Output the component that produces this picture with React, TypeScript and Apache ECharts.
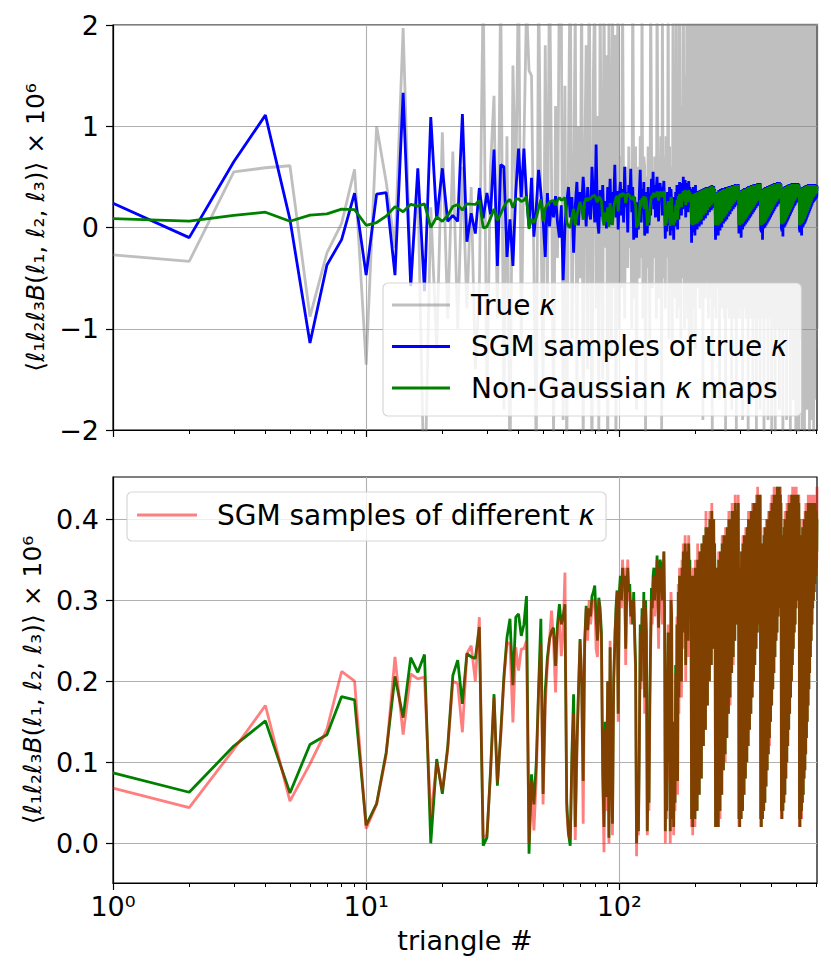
import React, { useEffect, useRef } from "react";
import * as echarts from "echarts";

// ---------- data (triangle index = position + 1) ----------
const N_TRIANGLES = 604;

const xMajorTicks = [1, 10, 100];
const xMinorTicks = [2, 3, 4, 5, 6, 7, 8, 9, 20, 30, 40, 50, 60, 70, 80, 90, 200, 300, 400, 500, 600];
const xTickLabels: Record<number, string> = { 1: "10\u2070", 10: "10\u00b9", 100: "10\u00b2" };
const yTicksTop = [-2, -1, 0, 1, 2];
const yTicksBottom = [0, 0.1, 0.2, 0.3, 0.4];

// Non-Gaussian kappa maps (green)
const greenA = [
  0.087, 0.063, 0.120, 0.151, 0.062, 0.122, 0.134, 0.181, 0.177, 0.022,
  0.049, 0.112, 0.206, 0.155, 0.229, 0.211, 0.233, 0.000, 0.104, 0.061,
  0.119, 0.207, 0.226, 0.172, 0.234, 0.230, 0.228, 0.267, -0.003, 0.007,
  0.090, 0.184, 0.071, 0.135, 0.205, 0.254, 0.277, 0.195, 0.279, 0.283,
  0.256, 0.270, 0.305, -0.013, 0.085, 0.048, 0.100, 0.190, 0.277, 0.061,
  0.188, 0.229, 0.252, 0.262, 0.266, 0.219, 0.270, 0.295, 0.270, 0.280,
  0.295, 0.050, 0.012, -0.003, 0.110, 0.184, 0.020, 0.120, 0.188, 0.252,
  0.200, 0.077, 0.250, 0.293, 0.263, 0.290, 0.280, 0.305, 0.310, 0.318,
  0.279, 0.250, 0.303, 0.290, 0.260, 0.090, 0.020, 0.150, 0.057, 0.200,
  0.007, 0.242, 0.100, 0.024, 0.200, 0.246, 0.290, 0.312, 0.160, 0.310,
];
const greenB = [
  0.33, 0.30, 0.34, 0.32, 0.33, 0.24, 0.31, 0.34, 0.31, 0.32,
  0.28, 0.30, 0.27, 0.31, 0.26, 0.22, 0.00, 0.06, 0.015, 0.12,
  0.27, 0.20, 0.29, 0.24, 0.31, 0.18, 0.30, 0.26, 0.015, 0.10,
  0.05, 0.18, 0.25, 0.315, 0.29, 0.33, 0.34, 0.30, 0.33, 0.32,
  0.355, 0.31, 0.266, 0.33, 0.35, 0.344, 0.32, 0.30, 0.33, 0.36,
  0.29, 0.015, 0.12, 0.04, 0.20, 0.26, 0.10, 0.22, 0.015, 0.30,
  0.28, 0.03, 0.09, 0.02, 0.15, 0.05, 0.22, 0.10, 0.27, 0.077,
  0.31, 0.18, 0.33, 0.25, 0.30, 0.20, 0.34, 0.26, 0.36, 0.28,
  0.33, 0.37, 0.22, 0.35, 0.30, 0.36, 0.25, 0.37, 0.32, 0.35,
  0.28, 0.33, 0.03, 0.30, 0.02, 0.33, 0.05, 0.22, 0.03, 0.34,
];
const greenC = [
  0.07, 0.31, 0.04, 0.35, 0.09, 0.27, 0.06, 0.36, 0.11, 0.33,
  0.08, 0.37, 0.13, 0.30, 0.12, 0.38, 0.17, 0.35, 0.14, 0.39,
  0.19, 0.36, 0.17, 0.39, 0.23, 0.33, 0.20, 0.40, 0.25, 0.37,
  0.22, 0.41, 0.27, 0.38, 0.24, 0.40, 0.29, 0.37, 0.31, 0.02,
  0.30, 0.03, 0.34, 0.04, 0.28, 0.02, 0.35, 0.06, 0.31, 0.04,
  0.36, 0.08, 0.33, 0.06, 0.37, 0.10, 0.30, 0.09, 0.38, 0.12,
  0.34, 0.11, 0.38, 0.15, 0.36, 0.13, 0.39, 0.17, 0.33, 0.16,
  0.40, 0.19, 0.37, 0.18, 0.40, 0.22, 0.36, 0.21, 0.41, 0.24,
  0.38, 0.23, 0.41, 0.26, 0.39, 0.25, 0.42, 0.28, 0.38, 0.27,
  0.41, 0.30, 0.39, 0.29, 0.42, 0.32, 0.03, 0.31, 0.02, 0.34,
];
const greenD = [
  0.04, 0.29, 0.03, 0.36, 0.05, 0.32, 0.04, 0.37, 0.07, 0.33,
  0.06, 0.38, 0.09, 0.34, 0.08, 0.38, 0.11, 0.31, 0.10, 0.39,
  0.13, 0.36, 0.12, 0.40, 0.15, 0.37, 0.14, 0.40, 0.17, 0.35,
  0.16, 0.41, 0.19, 0.38, 0.18, 0.41, 0.21, 0.39, 0.20, 0.42,
  0.23, 0.37, 0.22, 0.42, 0.25, 0.40, 0.24, 0.42, 0.27, 0.39,
  0.26, 0.43, 0.28, 0.40, 0.27, 0.42, 0.30, 0.41, 0.29, 0.43,
  0.31, 0.03, 0.32, 0.02, 0.35, 0.04, 0.30, 0.03, 0.37, 0.05,
  0.33, 0.04, 0.38, 0.06, 0.34, 0.05, 0.39, 0.08, 0.35, 0.07,
  0.39, 0.10, 0.36, 0.09, 0.40, 0.12, 0.34, 0.11, 0.40, 0.14,
  0.37, 0.13, 0.41, 0.16, 0.38, 0.15, 0.41, 0.18, 0.36, 0.17,
];
const greenE = [
  0.42, 0.20, 0.39, 0.19, 0.42, 0.22, 0.40, 0.21, 0.43, 0.24,
  0.38, 0.23, 0.43, 0.26, 0.41, 0.25, 0.43, 0.27, 0.40, 0.26,
  0.44, 0.29, 0.41, 0.28, 0.43, 0.30, 0.42, 0.29, 0.44, 0.31,
  0.41, 0.30, 0.43, 0.32, 0.42, 0.33, 0.04, 0.33, 0.03, 0.36,
  0.05, 0.31, 0.04, 0.38, 0.06, 0.34, 0.05, 0.39, 0.07, 0.35,
  0.06, 0.40, 0.09, 0.36, 0.08, 0.40, 0.11, 0.37, 0.10, 0.41,
  0.13, 0.38, 0.12, 0.41, 0.15, 0.36, 0.14, 0.42, 0.17, 0.39,
  0.16, 0.42, 0.19, 0.40, 0.18, 0.42, 0.21, 0.38, 0.20, 0.43,
  0.23, 0.40, 0.22, 0.43, 0.25, 0.41, 0.24, 0.43, 0.27, 0.39,
  0.26, 0.43, 0.28, 0.41, 0.27, 0.42, 0.30, 0.40, 0.29, 0.43,
];
const greenF = [
  0.31, 0.41, 0.30, 0.42, 0.32, 0.40, 0.31, 0.43, 0.33, 0.41,
  0.32, 0.42, 0.34, 0.40, 0.03, 0.32, 0.02, 0.35, 0.04, 0.30,
  0.03, 0.37, 0.05, 0.33, 0.04, 0.38, 0.06, 0.34, 0.05, 0.39,
  0.07, 0.35, 0.06, 0.39, 0.09, 0.36, 0.08, 0.40, 0.10, 0.37,
  0.09, 0.40, 0.12, 0.38, 0.11, 0.41, 0.14, 0.36, 0.13, 0.41,
  0.16, 0.39, 0.15, 0.41, 0.18, 0.40, 0.17, 0.42, 0.20, 0.38,
  0.19, 0.42, 0.22, 0.40, 0.21, 0.41, 0.24, 0.39, 0.23, 0.42,
  0.26, 0.40, 0.25, 0.41, 0.28, 0.39, 0.27, 0.42, 0.30, 0.40,
  0.29, 0.41, 0.31, 0.39, 0.30, 0.42, 0.32, 0.40, 0.31, 0.41,
  0.33, 0.40, 0.32, 0.42, 0.34, 0.39, 0.33, 0.41, 0.35, 0.40,
  0.34, 0.41, 0.36, 0.40,
];

// SGM samples of different kappa (red, semi-transparent)
const redA = [
  0.068, 0.044, 0.116, 0.170, 0.052, 0.098, 0.141, 0.212, 0.200, 0.018,
  0.048, 0.109, 0.230, 0.134, 0.209, 0.203, 0.205, 0.032, 0.100, 0.065,
  0.115, 0.200, 0.197, 0.137, 0.234, 0.244, 0.200, 0.279, 0.007, 0.010,
  0.085, 0.180, 0.075, 0.130, 0.200, 0.248, 0.246, 0.149, 0.242, 0.213,
  0.240, 0.240, 0.250, 0.000, 0.077, 0.016, 0.080, 0.190, 0.246, 0.048,
  0.170, 0.220, 0.250, 0.287, 0.250, 0.186, 0.260, 0.279, 0.231, 0.260,
  0.334, 0.040, 0.010, 0.005, 0.100, 0.160, 0.004, 0.110, 0.190, 0.250,
  0.210, 0.024, 0.240, 0.290, 0.250, 0.300, 0.270, 0.290, 0.300, 0.300,
  0.240, 0.230, 0.300, 0.280, 0.250, 0.080, -0.011, 0.140, 0.040, 0.200,
  0.000, 0.250, 0.090, 0.010, 0.190, 0.260, 0.280, 0.310, 0.150, 0.300,
];
const redB = [
  0.32, 0.29, 0.35, 0.31, 0.34, 0.22, 0.30, 0.35, 0.30, 0.31,
  0.27, 0.29, 0.28, 0.30, 0.25, 0.21, -0.016, 0.05, 0.01, 0.11,
  0.26, 0.19, 0.28, 0.22, 0.30, 0.16, 0.29, 0.24, 0.01, 0.09,
  0.04, 0.16, 0.24, 0.30, 0.27, 0.32, 0.33, 0.28, 0.31, 0.30,
  0.35, 0.29, 0.24, 0.32, 0.34, 0.33, 0.30, 0.27, 0.32, 0.36,
  0.27, 0.00, 0.10, 0.03, 0.19, 0.27, 0.08, 0.21, 0.00, 0.31,
  0.29, 0.02, 0.08, 0.01, 0.14, 0.04, 0.21, 0.09, 0.28, 0.06,
  0.32, 0.16, 0.34, 0.23, 0.29, 0.18, 0.35, 0.24, 0.37, 0.26,
  0.32, 0.38, 0.20, 0.34, 0.28, 0.37, 0.23, 0.38, 0.30, 0.34,
  0.26, 0.32, 0.02, 0.31, 0.01, 0.34, 0.04, 0.20, 0.02, 0.35,
];
const redC = [
  0.06, 0.31, 0.04, 0.37, 0.09, 0.25, 0.06, 0.36, 0.10, 0.33,
  0.08, 0.37, 0.12, 0.28, 0.12, 0.38, 0.15, 0.35, 0.14, 0.41,
  0.19, 0.35, 0.17, 0.39, 0.21, 0.33, 0.20, 0.41, 0.25, 0.37,
  0.22, 0.42, 0.27, 0.36, 0.24, 0.40, 0.27, 0.37, 0.30, 0.02,
  0.30, 0.02, 0.34, 0.04, 0.26, 0.02, 0.36, 0.06, 0.31, 0.03,
  0.36, 0.08, 0.31, 0.06, 0.38, 0.10, 0.28, 0.09, 0.38, 0.11,
  0.34, 0.10, 0.39, 0.15, 0.36, 0.13, 0.39, 0.16, 0.31, 0.16,
  0.41, 0.19, 0.37, 0.17, 0.40, 0.22, 0.34, 0.21, 0.42, 0.24,
  0.38, 0.22, 0.41, 0.26, 0.38, 0.25, 0.43, 0.28, 0.36, 0.27,
  0.41, 0.29, 0.39, 0.29, 0.43, 0.31, 0.02, 0.31, 0.02, 0.35,
];
const redD = [
  0.03, 0.28, 0.03, 0.36, 0.05, 0.31, 0.04, 0.38, 0.07, 0.33,
  0.06, 0.38, 0.08, 0.34, 0.08, 0.39, 0.11, 0.29, 0.10, 0.39,
  0.12, 0.36, 0.12, 0.41, 0.15, 0.36, 0.14, 0.40, 0.16, 0.33,
  0.16, 0.41, 0.18, 0.38, 0.18, 0.42, 0.21, 0.38, 0.20, 0.42,
  0.22, 0.36, 0.22, 0.42, 0.25, 0.39, 0.24, 0.43, 0.26, 0.39,
  0.26, 0.44, 0.28, 0.39, 0.27, 0.42, 0.29, 0.41, 0.29, 0.43,
  0.30, 0.02, 0.32, 0.02, 0.36, 0.04, 0.29, 0.03, 0.37, 0.04,
  0.33, 0.04, 0.39, 0.06, 0.33, 0.05, 0.39, 0.07, 0.35, 0.07,
  0.40, 0.10, 0.35, 0.09, 0.40, 0.11, 0.33, 0.11, 0.41, 0.14,
  0.37, 0.12, 0.41, 0.16, 0.37, 0.15, 0.42, 0.18, 0.35, 0.17,
];
const redE = [
  0.43, 0.20, 0.38, 0.19, 0.42, 0.21, 0.40, 0.21, 0.44, 0.24,
  0.37, 0.23, 0.43, 0.25, 0.41, 0.25, 0.44, 0.27, 0.39, 0.26,
  0.44, 0.28, 0.41, 0.28, 0.43, 0.30, 0.41, 0.29, 0.44, 0.30,
  0.40, 0.30, 0.44, 0.32, 0.42, 0.32, 0.03, 0.34, 0.03, 0.36,
  0.04, 0.30, 0.04, 0.38, 0.06, 0.33, 0.05, 0.40, 0.07, 0.35,
  0.06, 0.41, 0.08, 0.36, 0.08, 0.40, 0.10, 0.37, 0.10, 0.42,
  0.12, 0.38, 0.12, 0.41, 0.14, 0.35, 0.14, 0.43, 0.17, 0.38,
  0.16, 0.42, 0.18, 0.40, 0.18, 0.43, 0.21, 0.37, 0.20, 0.43,
  0.22, 0.40, 0.22, 0.44, 0.25, 0.40, 0.24, 0.43, 0.26, 0.38,
  0.26, 0.44, 0.28, 0.40, 0.27, 0.42, 0.29, 0.40, 0.29, 0.44,
];
const redF = [
  0.30, 0.41, 0.30, 0.43, 0.32, 0.39, 0.31, 0.43, 0.32, 0.41,
  0.32, 0.43, 0.33, 0.40, 0.02, 0.32, 0.02, 0.36, 0.04, 0.29,
  0.03, 0.38, 0.05, 0.33, 0.03, 0.38, 0.06, 0.33, 0.05, 0.40,
  0.06, 0.35, 0.06, 0.40, 0.09, 0.35, 0.08, 0.40, 0.09, 0.37,
  0.09, 0.41, 0.11, 0.38, 0.11, 0.42, 0.14, 0.35, 0.13, 0.41,
  0.15, 0.39, 0.15, 0.42, 0.18, 0.39, 0.17, 0.43, 0.19, 0.37,
  0.19, 0.43, 0.21, 0.39, 0.21, 0.41, 0.23, 0.39, 0.23, 0.43,
  0.25, 0.39, 0.25, 0.42, 0.28, 0.38, 0.27, 0.43, 0.29, 0.40,
  0.29, 0.42, 0.30, 0.38, 0.30, 0.43, 0.31, 0.40, 0.31, 0.42,
  0.32, 0.39, 0.32, 0.43, 0.34, 0.38, 0.33, 0.42, 0.34, 0.40,
  0.33, 0.42, 0.35, 0.44,
];

// SGM samples of true kappa (blue)
const blueA = [
  0.24, -0.10, 0.65, 1.11, 0.08, -1.14, -0.37, -0.12, 0.34, -0.47,
  0.33, 0.345, -0.47, 1.33, -0.58, 0.585, -0.63, 1.09, 0.075, 0.585,
  0.06, 0.12, 0.06, 1.12, -0.14, 0.14, -0.06, 0.39, 0.09, 0.34,
  0.13, 0.77, -0.38, 0.62, 0.60, -0.29, 0.08, -0.38, 0.35, 0.78,
  0.30, 0.78, 0.31, 0.01, 0.49, -0.09, 0.20, 0.57, 0.35, 0.08,
  -0.29, 0.34, 0.01, 0.25, 0.10, 0.31, 0.05, -0.10, 0.22, -0.52,
  0.01, 0.25, 0.40, 0.10, 0.30, -0.25, 0.21, 0.45, 0.02, 0.35,
  0.20, 0.50, 0.27, 0.01, 0.40, 0.15, 0.08, 0.60, 0.30, 0.05,
  0.82, 0.07, -0.06, 0.37, 0.11, 0.42, 0.05, 0.26, -0.01, 0.40,
  0.16, 0.48, 0.03, 0.35, 0.20, 0.62, 0.10, 0.36, -0.02, 0.30,
];
const blueB = [
  0.45, 0.12, 0.38, 0.05, 0.60, 0.20, 0.35, -0.05, 0.42, 0.28,
  0.58, 0.15, 0.40, -0.12, 0.30, 0.10, -0.10, 0.25, -0.02, 0.33,
  0.57, 0.05, 0.38, 0.18, 0.45, -0.08, 0.35, 0.22, -0.06, 0.40,
  0.02, 0.30, 0.12, 0.48, 0.25, 0.55, 0.18, 0.42, 0.10, 0.38,
  0.50, 0.22, 0.06, 0.36, 0.44, 0.28, 0.40, 0.12, 0.35, 0.46,
  0.20, -0.11, 0.30, -0.04, 0.35, 0.15, 0.02, 0.40, -0.08, 0.38,
  0.25, -0.03, 0.22, -0.12, 0.30, 0.01, 0.35, 0.05, 0.42, -0.02,
  0.40, 0.08, 0.45, 0.20, 0.36, 0.12, 0.44, 0.18, 0.50, 0.22,
  0.38, 0.47, 0.10, 0.42, 0.25, 0.44, 0.15, 0.46, 0.28, 0.40,
  0.20, 0.38, -0.15, 0.35, -0.05, 0.40, 0.02, 0.30, -0.08, 0.42,
];
const blueC = [
  0.03, 0.34, -0.02, 0.36, 0.05, 0.30, 0.01, 0.37, 0.08, 0.35,
  0.03, 0.38, 0.10, 0.33, 0.07, 0.39, 0.12, 0.36, 0.09, 0.40,
  0.15, 0.38, 0.12, 0.40, 0.18, 0.35, 0.15, 0.41, 0.20, 0.39,
  0.17, 0.42, 0.22, 0.39, 0.19, 0.41, 0.25, 0.38, 0.27, -0.12,
  0.33, -0.02, 0.35, -0.05, 0.30, -0.08, 0.37, 0.01, 0.33, -0.03,
  0.38, 0.03, 0.34, 0.00, 0.39, 0.05, 0.32, 0.04, 0.39, 0.07,
  0.36, 0.06, 0.40, 0.10, 0.37, 0.08, 0.40, 0.12, 0.35, 0.11,
  0.41, 0.14, 0.38, 0.13, 0.41, 0.17, 0.37, 0.16, 0.42, 0.19,
  0.39, 0.18, 0.42, 0.21, 0.40, 0.20, 0.43, 0.23, 0.39, 0.22,
  0.42, 0.25, 0.40, 0.24, 0.43, 0.27, -0.06, 0.33, -0.03, 0.35,
];
const blueD = [
  -0.01, 0.31, -0.10, 0.37, 0.00, 0.33, -0.02, 0.38, 0.02, 0.34,
  0.01, 0.39, 0.04, 0.35, 0.03, 0.39, 0.06, 0.33, 0.05, 0.40,
  0.08, 0.37, 0.07, 0.41, 0.10, 0.38, 0.09, 0.41, 0.12, 0.36,
  0.11, 0.42, 0.14, 0.39, 0.13, 0.42, 0.16, 0.40, 0.15, 0.43,
  0.18, 0.38, 0.17, 0.43, 0.20, 0.41, 0.19, 0.43, 0.22, 0.40,
  0.21, 0.44, 0.23, 0.41, 0.22, 0.43, 0.25, 0.42, 0.24, 0.44,
  0.26, -0.03, 0.33, -0.05, 0.36, -0.01, 0.31, -0.12, 0.38, 0.00,
  0.34, -0.01, 0.39, 0.01, 0.35, 0.00, 0.40, 0.03, 0.36, 0.02,
  0.40, 0.05, 0.37, 0.04, 0.41, 0.07, 0.35, 0.06, 0.41, 0.09,
  0.38, 0.08, 0.42, 0.11, 0.39, 0.10, 0.42, 0.13, 0.37, 0.12,
];
const blueE = [
  0.43, 0.15, 0.40, 0.14, 0.43, 0.17, 0.41, 0.16, 0.44, 0.19,
  0.39, 0.18, 0.44, 0.21, 0.42, 0.20, 0.44, 0.22, 0.41, 0.21,
  0.45, 0.24, 0.42, 0.23, 0.44, 0.25, 0.43, 0.24, 0.45, 0.26,
  0.42, 0.25, 0.44, 0.27, 0.43, 0.28, -0.02, 0.34, -0.04, 0.37,
  -0.01, 0.32, -0.09, 0.39, 0.01, 0.35, 0.00, 0.40, 0.02, 0.36,
  0.01, 0.41, 0.04, 0.37, 0.03, 0.41, 0.06, 0.38, 0.05, 0.42,
  0.08, 0.39, 0.07, 0.42, 0.10, 0.37, 0.09, 0.43, 0.12, 0.40,
  0.11, 0.43, 0.14, 0.41, 0.13, 0.43, 0.16, 0.39, 0.15, 0.44,
  0.18, 0.41, 0.17, 0.44, 0.20, 0.42, 0.19, 0.44, 0.22, 0.40,
  0.21, 0.44, 0.23, 0.42, 0.22, 0.43, 0.25, 0.41, 0.24, 0.44,
];
const blueF = [
  0.26, 0.42, 0.25, 0.43, 0.27, 0.41, 0.26, 0.44, 0.28, 0.42,
  0.27, 0.43, 0.29, 0.41, -0.03, 0.33, -0.05, 0.36, -0.01, 0.31,
  -0.02, 0.38, 0.00, 0.34, -0.08, 0.39, 0.01, 0.35, 0.00, 0.40,
  0.02, 0.36, 0.01, 0.40, 0.04, 0.37, 0.03, 0.41, 0.05, 0.38,
  0.04, 0.41, 0.07, 0.39, 0.06, 0.42, 0.09, 0.37, 0.08, 0.42,
  0.11, 0.40, 0.10, 0.42, 0.13, 0.41, 0.12, 0.43, 0.15, 0.39,
  0.14, 0.43, 0.17, 0.41, 0.16, 0.42, 0.19, 0.40, 0.18, 0.43,
  0.21, 0.41, 0.20, 0.42, 0.23, 0.40, 0.22, 0.43, 0.25, 0.41,
  0.24, 0.42, 0.26, 0.40, 0.25, 0.43, 0.27, 0.41, 0.26, 0.42,
  0.28, 0.41, 0.27, 0.43, 0.29, 0.40, 0.28, 0.42, 0.30, 0.41,
  0.29, 0.42, 0.31, 0.41,
];

// True kappa (gray)
const trueA = [
  -0.27, -0.335, 0.55, 0.59, 0.61, -0.88, -0.25, 0.04, 0.575, -1.355,
  1.00, 0.45, -0.20, 1.97, -0.55, 0.45, -2.80, 0.20, -1.20, 0.94,
  -0.90, 0.75, -1.00, 0.60, -0.80, 0.40, -1.40, -0.60, 2.40, -1.70,
  0.60, 1.30, -0.90, 2.40, -1.80, 0.90, -2.50, 1.60, 0.30, 2.60,
  -1.20, 0.80, 2.20, 1.55, 1.50, -0.40, -2.30, 2.50, 0.20, -1.60,
  1.80, -0.70, 2.70, 0.50, -2.10, 1.20, -0.30, 2.60, 2.30, -1.90,
  1.40, -2.40, 0.80, 2.80, -1.10, 0.30, 2.20, -1.70, 1.00, -0.50,
  2.50, -2.20, 0.60, 1.80, -1.40, 2.90, 0.10, -2.60, 1.50, 2.40,
  -0.80, 1.10, -2.10, 2.30, 0.40, -1.50, 2.60, -0.20, 1.70, -2.70,
  2.10, 0.60, -1.30, 2.80, -0.60, 1.90, -2.30, 1.30, 2.50, -1.00,
];
const trueB = [
  0.70, -0.60, 2.40, 0.30, -0.90, 0.60, 0.40, -0.40, 0.80, -0.20,
  0.50, -1.00, 2.60, 0.40, -0.70, 0.80, -1.80, 0.60, 0.40, -0.50,
  0.90, -0.30, 2.30, -0.90, 0.70, 0.60, -2.10, 0.50, -0.40, 0.80,
  0.20, -1.10, 2.40, 0.90, -0.60, 0.50, -0.30, 0.70, 0.50, -0.90,
  2.50, 0.80, -0.70, 0.60, -0.10, 0.90, -2.00, 2.20, 0.30, -0.50,
  0.70, -0.80, 0.90, 0.50, -0.30, 2.60, -1.10, 0.80, -0.60, 0.60,
  0.40, -1.20, 2.30, 0.70, -0.70, 1.30, -0.20, 2.50, -0.90, 0.60,
  0.60, -0.80, 2.80, 0.90, -1.10, 1.20, 0.20, -0.50, 2.60, 0.90,
  -1.00, 1.50, 0.80, -0.40, 3.00, -0.90, 1.60, 0.40, -1.30, 2.50,
  1.40, -0.60, 2.70, -1.10, 1.80, 0.10, -0.80, 2.90, 1.20, -1.20,
];
const trueC = [
  2.30, 0.50, -0.60, 2.70, 1.50, -0.50, 3.00, -0.80, 1.90, 0.30,
  -0.60, 2.50, 1.00, -1.90, 2.80, 0.60, -0.40, 3.30, -0.70, 1.40,
  2.10, -0.50, 0.80, 2.90, -0.90, 1.70, -0.30, 3.10, 1.10, -0.70,
  2.40, 0.20, -2.10, 2.80, 1.30, -0.80, 3.00, 0.70, -0.50, 2.20,
  -0.90, 1.60, 3.20, -0.40, 1.00, -0.60, 2.60, 0.40, -1.70, 2.90,
  1.20, -0.60, 3.10, -0.80, 1.80, 0.30, -0.70, 2.70, 1.40, -0.90,
  3.00, 0.60, -2.20, 2.40, -0.80, 1.90, 0.80, -0.60, 3.30, -0.40,
  1.50, -0.90, 2.60, 0.20, -0.70, 3.00, 1.10, -1.80, 2.80, -0.80,
  1.70, 0.50, -0.90, 2.50, 1.30, -0.60, 3.20, -0.30, 2.00, -2.00,
  0.90, 2.90, -0.70, 1.40, -0.50, 3.10, 0.60, -0.90, 2.40, 1.00,
];
const trueD = [
  -0.80, 2.70, 0.30, -0.60, 3.00, 1.50, -1.90, 2.20, -0.40, 2.90,
  0.80, -0.80, 3.20, 1.10, -0.60, 2.60, -0.90, 1.80, 0.40, -0.70,
  3.00, 1.30, -2.30, 2.40, 0.20, -0.70, 2.80, 1.60, -0.90, 3.10,
  0.70, -0.80, 2.50, -0.90, 1.90, 0.90, -1.70, 3.30, 1.20, -0.80,
  2.70, 0.50, -0.90, 3.00, 1.40, -0.60, 2.30, -2.00, 2.00, 0.60,
  -0.80, 2.90, 1.00, -0.90, 3.20, 0.30, -0.70, 2.60, 1.70, -1.80,
  2.80, 0.80, -0.90, 3.10, -0.40, 1.50, -0.90, 2.40, 1.10, -0.80,
  3.00, 0.40, -2.30, 2.70, 1.30, -0.60, 3.30, -0.90, 1.80, 0.70,
  -0.80, 2.90, 1.00, -0.90, 2.50, 0.20, -1.90, 3.10, 1.60, -0.60,
  2.60, -0.90, 1.20, 3.00, -0.80, 0.80, -0.70, 2.80, 1.40, -2.10,
];
const trueE = [
  3.20, 0.50, -0.90, 2.40, -0.80, 1.70, 0.90, -1.00, 3.00, 1.10,
  -0.60, 2.70, -2.20, 1.30, 3.10, -0.80, 0.60, -0.90, 2.90, 1.50,
  -0.90, 2.50, 0.40, -1.00, 3.30, 1.00, -0.90, 2.60, -1.80, 1.80,
  3.00, -0.60, 1.20, -0.90, 2.80, 0.70, -1.00, 3.10, 1.30, -0.80,
  2.40, 0.30, -2.40, 2.90, 1.60, -0.80, 3.20, -0.90, 1.00, 2.70,
  -0.90, 0.80, -1.00, 3.00, 1.40, -0.70, 2.50, -1.90, 1.90, 3.10,
  -0.90, 0.50, -0.80, 2.80, 1.20, -1.00, 3.30, 0.90, -0.90, 2.60,
  1.50, -0.90, 3.00, -2.10, 1.10, 2.40, -0.90, 0.70, 3.20, -1.00,
  1.80, -0.80, 2.90, 1.00, -0.90, 3.10, -1.70, 1.60, 0.40, -1.00,
  2.70, 1.30, -0.90, 3.00, -0.80, 0.90, 2.50, -2.30, 1.70, 3.20,
];
const trueF = [
  -1.00, 1.20, -0.90, 2.80, 0.60, -1.10, 3.10, 1.40, -0.90, 2.60,
  -2.20, 1.00, 3.00, -1.10, 1.80, -0.90, 2.90, 0.80, -1.00, 3.30,
  1.30, -1.10, 2.50, -1.00, 1.60, 3.10, -2.00, 0.70, -1.10, 2.80,
  1.20, -1.00, 3.00, -0.90, 1.90, 2.60, -1.10, 1.00, -2.40, 3.20,
  1.50, -1.10, 2.70, -1.00, 0.90, 3.00, -1.20, 1.70, -1.00, 2.90,
  -1.80, 1.30, 3.10, -1.00, 0.60, -1.10, 2.60, 1.80, -1.10, 3.30,
  -1.00, 1.10, 2.80, -2.30, 1.50, -1.10, 3.00, 0.80, -1.10, 2.50,
  1.70, -1.00, 3.20, -1.10, 1.20, -1.90, 2.90, 1.40, -1.10, 3.00,
  -1.20, 0.90, 2.70, -1.10, 1.60, -2.50, 3.10, 1.00, -1.10, 2.80,
  1.30, -1.00, 3.00, -1.10, 1.80, -1.70, 2.60, 0.70, -1.20, 3.20,
  1.40, -1.10, 2.90, -1.00,
];

const green = [...greenA, ...greenB, ...greenC, ...greenD, ...greenE, ...greenF];
const red = [...redA, ...redB, ...redC, ...redD, ...redE, ...redF];
const blue = [...blueA, ...blueB, ...blueC, ...blueD, ...blueE, ...blueF];
const trueKappa = [...trueA, ...trueB, ...trueC, ...trueD, ...trueE, ...trueF];

const toPairs = (vals: number[]) => vals.map((v, k) => [k + 1, v]);

const FONT = "DejaVu Sans";
const GRID_COLOR = "#b0b0b0";

const yName =
  "{n|\u27e8}{i|\u2113}{n|\u2081}{i|\u2113}{n|\u2082}{i|\u2113}{n|\u2083}{i|B}{n|(}{i|\u2113}{n|\u2081, }{i|\u2113}{n|\u2082, }{i|\u2113}{n|\u2083}{n|)\u27e9 \u00d7 10\u2076}";
const yNameStyle = {
  fontFamily: FONT,
  fontSize: 25,
  color: "#000",
  rich: {
    n: { fontFamily: FONT, fontSize: 25, color: "#000" },
    i: { fontFamily: FONT, fontSize: 25, fontStyle: "italic", color: "#000" },
  },
};

const legendText = {
  fontFamily: FONT,
  fontSize: 28,
  color: "#000",
  lineHeight: 32,
  rich: { i: { fontFamily: FONT, fontSize: 28, fontStyle: "italic", color: "#000", lineHeight: 32 } },
};
const legendFormatter = (name: string) => name.replace("\u03ba", "{i|\u03ba}");

function majorX(gridIndex: number, showLabels: boolean, withName: boolean) {
  return {
    type: "log",
    logBase: 10,
    gridIndex,
    min: 1,
    max: N_TRIANGLES,
    position: "bottom",
    name: withName ? "triangle #" : "",
    nameLocation: "middle",
    nameGap: 44,
    nameTextStyle: { fontFamily: FONT, fontSize: 27, color: "#000" },
    axisLine: { show: true, onZero: false, lineStyle: { color: "#000", width: 1.2 } },
    axisTick: { show: true, inside: false, length: 7, customValues: xMajorTicks, lineStyle: { color: "#000", width: 1.2 } },
    axisLabel: {
      show: showLabels,
      customValues: xMajorTicks,
      margin: 10,
      fontFamily: FONT,
      fontSize: 27,
      color: "#000",
      formatter: (v: number) => xTickLabels[Math.round(v)] ?? "",
    },
    splitLine: { show: true, lineStyle: { color: GRID_COLOR, width: 1.1 } },
  };
}

function minorX(gridIndex: number) {
  return {
    type: "log",
    logBase: 10,
    gridIndex,
    min: 1,
    max: N_TRIANGLES,
    position: "bottom",
    axisLine: { show: false, onZero: false },
    axisTick: { show: true, inside: false, length: 4, customValues: xMinorTicks, lineStyle: { color: "#000", width: 1 } },
    axisLabel: { show: false },
    splitLine: { show: false },
  };
}

export default function App() {
  const ref = useRef<HTMLDivElement>(null);

  useEffect(() => {
    if (!ref.current) return;
    const chart = echarts.init(ref.current, null, { renderer: "svg" });
    const lineBase = { type: "line", showSymbol: false, symbol: "none", clip: true, silent: true };

    chart.setOption({
      animation: false,
      backgroundColor: "#fff",
      grid: [
        { left: 113, top: 25, width: 704, height: 405, show: true, borderColor: "#000", borderWidth: 1.2, backgroundColor: "transparent", outerBoundsMode: "none" },
        { left: 113, top: 477, width: 704, height: 406, show: true, borderColor: "#000", borderWidth: 1.2, backgroundColor: "transparent", outerBoundsMode: "none" },
      ],
      xAxis: [majorX(0, false, false), minorX(0), majorX(1, true, true), minorX(1)],
      yAxis: [
        {
          type: "value",
          gridIndex: 0,
          min: -2,
          max: 2,
          interval: 1,
          name: yName,
          nameLocation: "middle",
          nameRotate: 90,
          nameGap: 62,
          nameTextStyle: yNameStyle,
          axisLine: { show: true, onZero: false, lineStyle: { color: "#000", width: 1.2 } },
          axisTick: { show: true, length: 7, customValues: yTicksTop, lineStyle: { color: "#000", width: 1.2 } },
          axisLabel: {
            customValues: yTicksTop,
            margin: 14,
            fontFamily: FONT,
            fontSize: 27,
            color: "#000",
            formatter: (v: number) => (v < 0 ? "\u2212" + Math.abs(v) : String(v)),
          },
          splitLine: { show: true, lineStyle: { color: GRID_COLOR, width: 1.1 } },
        },
        {
          type: "value",
          gridIndex: 1,
          min: -0.049,
          max: 0.452,
          name: yName,
          nameLocation: "middle",
          nameRotate: 90,
          nameGap: 62,
          nameTextStyle: yNameStyle,
          axisLine: { show: true, onZero: false, lineStyle: { color: "#000", width: 1.2 } },
          axisTick: { show: true, length: 7, customValues: yTicksBottom, lineStyle: { color: "#000", width: 1.2 } },
          axisLabel: {
            customValues: yTicksBottom,
            margin: 14,
            fontFamily: FONT,
            fontSize: 27,
            color: "#000",
            formatter: (v: number) => v.toFixed(1),
          },
          splitLine: { show: true, lineStyle: { color: GRID_COLOR, width: 1.1 } },
        },
      ],
      legend: [
        {
          left: 383,
          top: 283,
          orient: "vertical",
          selectedMode: false,
          data: ["True \u03ba", "SGM samples of true \u03ba", "Non-Gaussian \u03ba maps"],
          formatter: legendFormatter,
          icon: "rect",
          itemWidth: 58,
          itemHeight: 3,
          itemGap: 9.5,
          padding: [6, 14, 12, 9],
          backgroundColor: "rgba(255,255,255,0.8)",
          borderColor: "rgba(204,204,204,0.8)",
          borderWidth: 1.2,
          borderRadius: 5,
          textStyle: { ...legendText, padding: [0, 0, 0, 16] },
        },
        {
          left: 127,
          top: 492,
          orient: "vertical",
          selectedMode: false,
          data: ["SGM samples of different \u03ba"],
          formatter: legendFormatter,
          icon: "rect",
          itemWidth: 60,
          itemHeight: 3,
          padding: [7, 11, 10, 10],
          backgroundColor: "rgba(255,255,255,0.8)",
          borderColor: "rgba(204,204,204,0.8)",
          borderWidth: 1.2,
          borderRadius: 5,
          textStyle: { ...legendText, padding: [0, 0, 0, 15] },
        },
      ],
      series: [
        {
          ...lineBase,
          name: "True \u03ba",
          xAxisIndex: 0,
          yAxisIndex: 0,
          data: toPairs(trueKappa),
          itemStyle: { color: "rgba(128,128,128,0.5)" },
          lineStyle: { color: "rgba(128,128,128,0.5)", width: 2.8 },
        },
        {
          ...lineBase,
          name: "SGM samples of true \u03ba",
          xAxisIndex: 0,
          yAxisIndex: 0,
          data: toPairs(blue),
          itemStyle: { color: "#0000ff" },
          lineStyle: { color: "#0000ff", width: 2.8 },
        },
        {
          ...lineBase,
          name: "Non-Gaussian \u03ba maps",
          xAxisIndex: 0,
          yAxisIndex: 0,
          data: toPairs(green),
          itemStyle: { color: "#008000" },
          lineStyle: { color: "#008000", width: 2.8 },
        },
        {
          ...lineBase,
          name: "Non-Gaussian \u03ba maps",
          xAxisIndex: 2,
          yAxisIndex: 1,
          data: toPairs(green),
          itemStyle: { color: "#008000" },
          lineStyle: { color: "#008000", width: 2.8 },
        },
        {
          ...lineBase,
          name: "SGM samples of different \u03ba",
          xAxisIndex: 2,
          yAxisIndex: 1,
          data: toPairs(red),
          itemStyle: { color: "rgba(255,0,0,0.5)" },
          lineStyle: { color: "rgba(255,0,0,0.5)", width: 2.8 },
        },
      ],
    });

    return () => chart.dispose();
  }, []);

  return (
    <div
      ref={ref}
      style={{ position: "fixed", left: 0, top: 0, width: 831, height: 975, background: "#fff" }}
    />
  );
}
